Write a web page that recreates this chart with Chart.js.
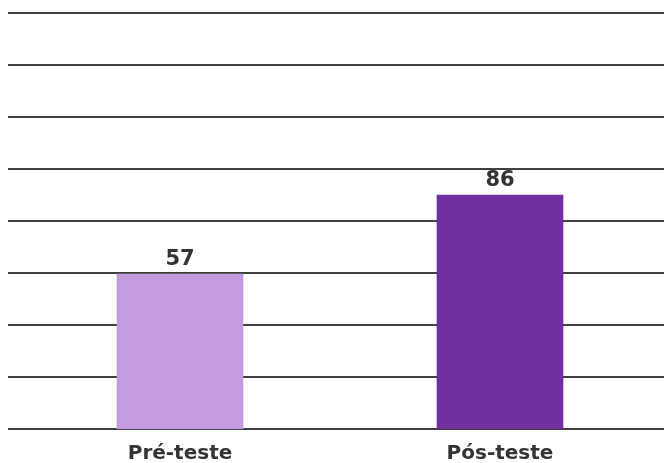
<!DOCTYPE html>
<html lang="pt">
<head>
<meta charset="utf-8">
<title>Pré-teste vs Pós-teste</title>
<script src="https://cdn.jsdelivr.net/npm/chart.js@4.4.1/dist/chart.umd.min.js"></script>
<style>
  html, body { margin: 0; padding: 0; background: #fff; }
  #wrap { width: 664px; height: 463px; }
</style>
</head>
<body>
<div id="wrap"><canvas id="scoreChart" width="664" height="463"></canvas></div>
<script>
const categories = ['Pré-teste', 'Pós-teste'];
const scores = [57, 86];
const barColors = ['#c39be1', '#7030a0'];
// horizontal rule values (no labels shown)
const gridValues = [0, 19.125, 38.25, 57.375, 76.5, 95.625, 114.75, 133.875, 153];

const textColor = '#333333';
const fontFamily = "'DejaVu Sans', sans-serif";

// full-width rules drawn under the bars
const ruleLines = {
    id: 'ruleLines',
    beforeDatasetsDraw(chart) {
        const { ctx, scales: { y } } = chart;
        ctx.save();
        ctx.strokeStyle = '#404040';
        ctx.lineWidth = 2;
        y.ticks.forEach(t => {
            const py = Math.round(y.getPixelForValue(t.value));
            ctx.beginPath();
            ctx.moveTo(8, py);
            ctx.lineTo(chart.width, py);
            ctx.stroke();
        });
        ctx.restore();
    }
};

// value printed above each bar
const barValues = {
    id: 'barValues',
    afterDatasetsDraw(chart) {
        const { ctx } = chart;
        const meta = chart.getDatasetMeta(0);
        ctx.save();
        ctx.fillStyle = textColor;
        ctx.font = `bold 21px ${fontFamily}`;
        ctx.textAlign = 'center';
        ctx.textBaseline = 'alphabetic';
        meta.data.forEach((bar, i) => {
            ctx.fillText(scores[i], bar.x, bar.y - 9);
        });
        ctx.restore();
    }
};

new Chart(document.getElementById('scoreChart'), {
    type: 'bar',
    data: {
        labels: categories,
        datasets: [{
            data: scores,
            backgroundColor: barColors,
            borderWidth: 0,
            barThickness: 126
        }]
    },
    options: {
        responsive: false,
        animation: false,
        layout: { padding: { left: 20, right: 4, top: 13, bottom: 0 } },
        plugins: {
            legend: { display: false },
            tooltip: { enabled: false }
        },
        scales: {
            x: {
                grid: { display: false, drawTicks: false },
                border: { display: false },
                ticks: {
                    color: textColor,
                    padding: 13,
                    font: { family: fontFamily, size: 20, weight: 'bold' }
                },
                afterFit(scale) {
                    scale.height = 34;
                }
            },
            y: {
                display: false,
                min: 0,
                max: 153,
                afterBuildTicks(scale) {
                    scale.ticks = gridValues.map(v => ({ value: v }));
                }
            }
        }
    },
    plugins: [ruleLines, barValues]
});
</script>
</body>
</html>
